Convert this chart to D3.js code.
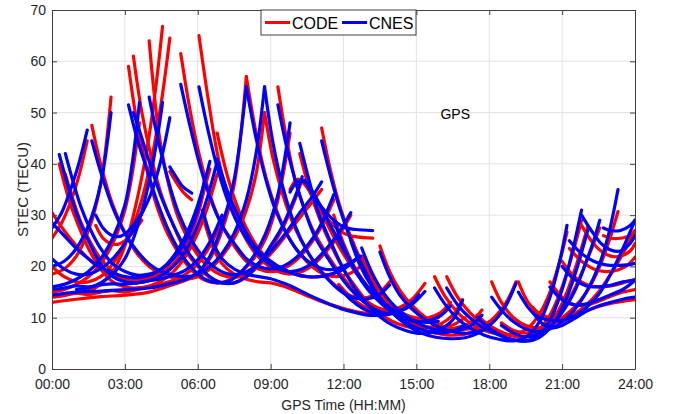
<!DOCTYPE html>
<html>
<head>
<meta charset="utf-8">
<script src="https://cdn.jsdelivr.net/npm/d3@7"></script>
<style>
  body { margin: 0; background: #fff; }
  svg { display: block; font-family: "Liberation Sans", Arial, sans-serif; }
</style>
</head>
<body>
<svg id="stec-chart" width="676" height="414"></svg>
<script>
'use strict';

// sample hours of every satellite arc (shared by both products)
var arcHours = [
    [0, 0.4, 0.8, 1.1, 1.45],
    [0, 0.5, 1, 1.5, 2, 2.43],
    [0, 0.5, 1, 1.5, 2, 2.5, 3, 3.3, 3.6],
    [0, 1, 2, 3, 4, 5, 5.5, 6, 6.5, 7, 7.5, 8],
    [0, 0.5, 1, 1.5, 2, 2.5, 3, 3.5, 4.1, 4.5, 4.85],
    [1, 1.5, 2, 2.5, 3, 3.5, 3.95, 4.3, 4.55],
    [0.3, 0.7, 1, 1.5, 2, 2.5, 3, 3.5, 4, 4.5, 5, 5.5, 6, 6.4, 6.8],
    [0.55, 0.9, 1.2, 1.6, 2, 2.5, 3, 3.5, 4, 4.5, 5, 5.5, 6, 6.3],
    [1.64, 2, 2.5, 3, 3.5, 4, 4.5, 5, 5.5, 6, 6.5, 7, 7.5, 8, 8.4, 8.75],
    [3.15, 3.5, 3.9, 4.3, 4.8, 5.3, 5.8, 6.3, 6.8, 7.3, 7.8, 8.3, 8.8, 9.3, 9.8],
    [3.35, 3.7, 4.1, 4.5, 5, 5.5, 6, 6.5, 7, 7.5, 8, 8.5, 9, 9.5, 10, 10.3],
    [4.0, 4.4, 4.8, 5.2, 5.7, 6.2, 6.7, 7.2, 7.7, 8.2, 8.7, 9.2, 9.7, 10.2, 10.7, 11.1],
    [5.3, 5.7, 6.1, 6.5, 7, 7.5, 8, 8.5, 9, 9.5, 10, 10.5, 11, 11.6],
    [6.05, 6.45, 6.85, 7.3, 7.8, 8.3, 8.8, 9.3, 9.8, 10.3, 10.8, 11.3, 11.8, 12.3],
    [6.8, 7.2, 7.6, 8, 8.5, 9, 9.5, 10, 10.5, 11, 11.5, 12, 12.55],
    [8.0, 8.4, 8.8, 9.2, 9.7, 10.2, 10.7, 11.2, 11.7, 12.2, 12.7],
    [10.4, 10.8, 11.2, 11.6, 12, 12.5, 13.2],
    [8.75, 9.1, 9.5, 10, 10.5, 11, 11.5, 12, 12.5, 13, 13.5, 13.9],
    [9.3, 9.65, 10, 10.4, 10.8, 11.3, 11.8, 12.3, 12.8, 13.3, 13.8, 14.3, 14.8, 15.35],
    [10.2, 10.6, 11, 11.5, 12, 12.5, 13, 13.5, 14, 14.5, 15, 15.5, 16, 16.5, 16.9],
    [11.1, 11.5, 11.9, 12.4, 12.9, 13.4, 14, 14.6, 15.2, 15.8, 16.4, 17, 17.5, 18],
    [6.2, 6.6, 7, 7.5, 8, 8.5, 9, 9.5, 10, 10.5, 11, 11.5, 12, 12.5, 13, 13.5, 14],
    [12.75, 13.2, 13.7, 14.2, 14.8, 15.4, 16, 16.6, 17.2, 17.7],
    [13.5, 13.9, 14.3, 14.8, 15.4, 16, 16.6, 17.2, 17.8, 18.3, 18.7, 19.1],
    [15.75, 16.2, 16.7, 17.2, 17.8, 18.4, 19, 19.6, 20.1, 20.5, 20.9, 21.2],
    [16.25, 16.7, 17.2, 17.7, 18.3, 18.9, 19.5, 20, 20.5, 21, 21.4, 21.8],
    [18.1, 18.5, 19, 19.5, 20, 20.5, 21, 21.5, 22, 22.5, 22.9, 23.3],
    [19.2, 19.6, 20, 20.5, 21, 21.5, 22, 22.5, 23, 23.5, 24],
    [17.5, 18, 18.6, 19.2, 19.8, 20.3, 20.8, 21.2, 21.6, 22.05],
    [18.5, 19, 19.5, 20, 20.5, 21, 21.5, 22, 22.3, 22.55],
    [21.3, 21.8, 22.3, 22.8, 23.3, 23.7, 24],
    [21.8, 22.2, 22.6, 23, 23.4, 23.8, 24],
    [22.7, 23, 23.4, 23.8, 24],
    [19.8, 20.2, 20.6, 21, 21.5, 22, 22.5, 23, 23.5, 24],
    [20.5, 21, 21.5, 22, 22.5, 23, 23.5, 24],
    [21, 21.5, 22, 22.5, 23, 23.5, 24],
    [9.8, 10.1, 10.4, 10.8, 11.3, 11.8, 12.4, 13, 13.6, 14.2, 14.8, 15.4, 15.9],
    [4.85, 5.1, 5.4, 5.75],
    [1.8, 2.1, 2.4, 2.7, 3.0, 3.3, 3.7],
    [0, 0.5, 1, 1.5, 2, 2.5, 3, 3.5, 4, 4.5, 5, 5.5, 6, 6.5],
    [11.6, 12, 12.5, 13, 13.5, 14, 14.5, 15, 15.5, 16, 16.4],
    [12.3, 12.7, 13.2, 13.7, 14.2, 14.8, 15.4, 16, 16.5, 17],
    [11.8, 12.3, 12.8, 13.3, 13.8, 14.3, 14.8, 15.1],
    [0, 0.5, 1, 1.5, 2, 2.5, 3, 3.5, 4, 4.5, 5, 5.5, 6, 6.5, 7]
]

// STEC from CODE (TECU)
var codeStec = [
    [25.5, 28.5, 33, 37.5, 44.5],
    [18.5, 19.5, 22, 27, 36, 53],
    [15, 15.5, 16.5, 18, 20.5, 24.5, 31, 38, 48],
    [13, 13.6, 14.1, 14.4, 15, 16.5, 17.3, 18.5, 21.5, 27, 36, 57],
    [20, 18, 17, 17, 18, 20.5, 24.5, 30, 41, 52, 64.5],
    [14.8, 15.2, 16.5, 19, 24, 33, 44, 56, 66.8],
    [40, 33, 29, 23.5, 19.5, 17, 16, 15.8, 16.2, 17.2, 19, 22, 26.5, 31.5, 38],
    [38, 32.5, 28.5, 24.5, 21.5, 19, 17.5, 17, 17.3, 18.5, 20.5, 24, 30, 36],
    [47.5, 40, 32, 26.5, 22.5, 20, 18.5, 17.8, 17.5, 18, 19.5, 22, 25.5, 31, 38, 50],
    [59, 48, 39, 32, 26, 22, 19, 17.3, 16.8, 17.3, 19, 21.5, 25.5, 33, 46],
    [61, 50, 41, 34, 28, 23, 20, 17.8, 16.8, 16.8, 18, 20.2, 23.5, 27.5, 33, 37],
    [64, 46, 36, 29.5, 24.5, 21, 19, 18, 18, 19, 21, 23.5, 26.5, 29.5, 32.5, 35],
    [61.5, 50, 41, 34, 28, 24, 21, 19.5, 19, 19.5, 21, 23.5, 27, 33],
    [65, 52, 41, 33, 27, 23, 20.5, 19, 18.5, 19, 20.5, 23, 26, 30],
    [46, 38, 32, 27.5, 23.5, 21, 19.5, 18.5, 18, 18, 18.5, 19.5, 21.5],
    [57, 46, 37.5, 31.5, 26, 22.5, 20, 18.5, 18, 18.5, 20],
    [36.5, 33, 30, 28, 26.5, 25.8, 25.5],
    [50, 41, 34, 27.5, 23, 19.5, 17, 15, 14, 14, 15, 17],
    [55, 45, 37, 31, 26.5, 22.5, 19, 16, 13.8, 12.2, 11.5, 12, 13.5, 16.7],
    [42, 35, 29.5, 24, 19.5, 16, 13, 10.8, 9.3, 8.4, 8, 8.1, 8.8, 10.5, 13.5],
    [47, 38, 31, 24.5, 19.5, 15, 11.5, 9.3, 7.8, 7, 6.6, 6.8, 7.6, 9.2],
    [30, 24, 20.5, 18.5, 17.5, 17, 16.8, 16.2, 15.3, 14.3, 13.3, 12.5, 11.8, 11.2, 10.8, 10.8, 11.2],
    [22, 17.5, 14, 11.5, 9.5, 8.3, 7.8, 8, 9, 11.5],
    [24, 19, 15.5, 12.5, 10, 8.5, 7.8, 7.8, 8.5, 10.5, 13, 17],
    [18, 14, 11, 9, 7.5, 6.8, 6.8, 8, 11, 15, 21, 26.7],
    [18, 14, 11, 9, 7.5, 6.5, 6.3, 7.5, 10.5, 16, 22, 29],
    [17, 13, 10, 8.5, 8, 8.5, 10, 12, 15, 19.5, 24.5, 30.7],
    [17, 13, 11, 10, 10, 10.8, 12.5, 15, 18.5, 22.5, 27],
    [10.5, 8.5, 7, 6.3, 6.5, 8, 11, 15, 20.5, 27.7],
    [9, 7.5, 7, 7.5, 9, 11.5, 15.5, 21, 24.5, 27.5],
    [23.5, 21, 19.5, 19, 19.3, 20.3, 21.8],
    [28, 25, 23, 22, 22, 23, 24.5],
    [26, 25.5, 25.5, 26, 27],
    [12, 10, 9.2, 9.3, 10, 11.3, 12.2, 12.8, 13.2, 13.5],
    [17, 14, 12.5, 12.5, 13.2, 14.2, 15, 15.5],
    [21, 18, 16.5, 16, 16.2, 16.8, 17.5],
    [35, 37, 36, 33, 28.5, 24, 19.5, 16, 13.5, 11.5, 10.2, 9.8, 10],
    [38.5, 36.5, 34.5, 33],
    [28, 25.5, 24.5, 24.3, 25, 26.5, 29],
    [30.5, 27, 24, 21.5, 19.5, 18.3, 17.5, 17.3, 17.8, 19, 21.5, 25.5, 31, 39],
    [30, 24.5, 19.5, 16, 13.5, 11.5, 10.3, 9.8, 10, 11, 13],
    [26, 21, 16.5, 13.2, 11, 9.2, 8.2, 8, 8.6, 10],
    [16.5, 14, 12.3, 11.3, 11, 11.5, 12.8, 14],
    [14, 14.3, 14.8, 14.5, 15, 15.3, 15, 15.5, 16, 16.6, 17.3, 18.5, 20.5, 24, 29]
]

// STEC from CNES (TECU)
var cnesStec = [
    [27.5, 30.5, 35.5, 40, 46.6],
    [20, 21, 23.5, 28, 36, 50],
    [16, 16.5, 17.5, 19, 21.5, 25.5, 32, 40, 52],
    [14.4, 15, 15.2, 15.5, 15.8, 16.8, 17.5, 18.8, 22, 28, 37, 55],
    [21.5, 19.5, 18.5, 18.5, 19.5, 21.5, 24.5, 28.5, 34.5, 41, 49],
    [15.5, 15.8, 16.8, 18.5, 21.5, 27.5, 35.5, 44, 52],
    [41.8, 35, 30.5, 25, 20.5, 18, 17, 16.8, 17.2, 18.2, 20, 23, 28, 33.5, 40.5],
    [42, 36, 31.5, 27, 23.5, 20.5, 19, 18.3, 18.5, 19.5, 21.5, 25, 31, 37.5],
    [44.5, 38.5, 31.5, 26.5, 23, 20.5, 19, 18.3, 18, 18.5, 20, 22.5, 26.5, 33, 42, 55],
    [51.5, 45, 39, 33, 27, 22.5, 19.5, 17.5, 16.8, 17.2, 19, 22, 26.5, 34, 48],
    [50, 45, 39, 33.5, 28, 23.5, 20.3, 18, 16.8, 16.8, 18, 20.5, 24, 28, 33.5, 37.5],
    [53, 44, 36.5, 30.5, 25.5, 22, 19.8, 18.6, 18.5, 19.5, 21.5, 24, 27, 30.5, 33.5, 36.5],
    [55.5, 47, 39.5, 33.5, 28, 24.5, 21.5, 20, 19.5, 20, 21.5, 24, 27.5, 34],
    [55, 46, 38.5, 32, 27, 23.5, 21, 19.5, 19, 19.5, 21, 23.5, 26.5, 30.5],
    [41, 35, 30.5, 26.5, 23, 21, 19.5, 18.5, 18, 18, 18.5, 19.5, 21.5],
    [55, 45, 37, 31, 26, 22.5, 20.5, 19.5, 19.5, 20.5, 22],
    [36.8, 33.5, 31, 29, 27.7, 27.2, 27],
    [55, 44, 35.5, 28, 23, 19.5, 16.8, 14.8, 13.8, 13.7, 14.6, 16.4],
    [51.5, 43.5, 37, 31, 26, 22, 18.5, 15.5, 13.2, 11.6, 10.8, 11.2, 12.5, 15.1],
    [44, 36.5, 30, 24.5, 19.5, 15.5, 12.5, 10.2, 8.6, 7.6, 7, 7.1, 7.8, 9.6, 13.4],
    [44.5, 37, 30.5, 24, 19, 14.5, 11, 8.6, 7, 6.2, 5.9, 6.1, 6.9, 8.6],
    [31, 25, 21.5, 19.5, 18.5, 18, 17.6, 16.8, 15.8, 14.6, 13.5, 12.5, 11.6, 11, 10.5, 10.5, 11],
    [23.6, 18.5, 14.5, 11.8, 9.6, 8.2, 7.5, 7.5, 8.3, 10.5],
    [22.8, 18, 14.5, 11.8, 9.5, 8, 7.2, 7, 7.8, 9.8, 12.5, 16.7],
    [15.8, 12.5, 9.8, 8, 6.6, 5.8, 5.5, 6.5, 9.5, 14, 21, 28],
    [15.8, 12.5, 10, 8.2, 6.8, 5.8, 5.5, 6.5, 9.5, 15.5, 22.5, 31],
    [14, 11.5, 9.2, 7.8, 7.3, 7.8, 9.2, 11.5, 15, 20, 26, 35],
    [15, 12, 10.2, 9.5, 9.5, 10.3, 12, 14.5, 18.5, 23.5, 29],
    [10, 8, 6.3, 5.5, 5.6, 7, 10, 14, 19.5, 27],
    [8.5, 7, 6.3, 6.8, 8.3, 11, 15, 21, 25, 29],
    [25, 22.5, 21, 20.3, 20.2, 20.3, 20.6],
    [30, 27, 24.5, 23.2, 23, 24.5, 26],
    [27.5, 27, 27, 28, 29],
    [11, 8.8, 8, 8.5, 9.8, 11.3, 12.3, 13, 13.6, 14],
    [16, 13.5, 12.5, 12.7, 13.5, 14.5, 15.5, 17.3],
    [20, 17.5, 16.2, 16, 16.3, 17, 17.3],
    [34.5, 36.5, 36.5, 34, 29.5, 25, 20, 16, 13.2, 11, 9.6, 9.1, 9.3],
    [39.4, 37.5, 35.5, 34.3],
    [30, 27.5, 26.2, 25.8, 26.3, 27.8, 30.5],
    [28.5, 26, 23.5, 21.5, 19.8, 18.8, 18, 17.8, 18.3, 19.5, 22, 26, 32, 40.5],
    [29, 24, 19, 15.5, 13, 11, 9.8, 9.2, 9.4, 10.4, 12.3],
    [25, 20, 15.8, 12.6, 10.3, 8.5, 7.4, 7, 7.4, 8.6],
    [16, 13.5, 11.8, 10.8, 10.6, 11.3, 12.8, 14.5],
    [15.5, 15.8, 16.2, 16, 16.4, 16.6, 16.5, 16.8, 17.2, 17.6, 18.3, 19.3, 21.3, 24.8, 30]
]

var xTicks = [0, 3, 6, 9, 12, 15, 18, 21, 24]
var yTicks = [0, 10, 20, 30, 40, 50, 60, 70]
var seriesNames = ['CODE', 'CNES']
var seriesColors = ['#ff0000', '#0000ff']

var svg = d3.select('#stec-chart')
var margin = { left: 52, right: 41, top: 10, bottom: 45 }
var width = 676 - margin.left - margin.right
var height = 414 - margin.top - margin.bottom

var x = d3.scaleLinear().domain([0, 24]).range([0, width])
var y = d3.scaleLinear().domain([0, 70]).range([height, 0])

var g = svg.append('g')
    .attr('transform', 'translate(' + margin.left + ',' + margin.top + ')')

// grid
g.append('g').selectAll('line')
    .data(xTicks.slice(1, -1))
    .enter().append('line')
    .attr('x1', function(d) { return x(d) }).attr('x2', function(d) { return x(d) })
    .attr('y1', 0).attr('y2', height)
    .attr('stroke', '#e3e3e3').attr('stroke-width', 1)
g.append('g').selectAll('line')
    .data(yTicks.slice(1, -1))
    .enter().append('line')
    .attr('y1', function(d) { return y(d) }).attr('y2', function(d) { return y(d) })
    .attr('x1', 0).attr('x2', width)
    .attr('stroke', '#e3e3e3').attr('stroke-width', 1)

g.append('clipPath').attr('id', 'plot-clip')
    .append('rect').attr('width', width).attr('height', height)

var line = d3.line()
    .x(function(d) { return x(d[0]) })
    .y(function(d) { return y(d[1]) })
    .curve(d3.curveCatmullRom.alpha(0.5))

function drawSeries(stec, color) {
    var arcs = stec.map(function(values, k) {
        return values.map(function(v, i) { return [arcHours[k][i], v] })
    })
    g.append('g')
        .attr('clip-path', 'url(#plot-clip)')
        .selectAll('path')
        .data(arcs)
        .enter().append('path')
        .attr('d', line)
        .attr('fill', 'none')
        .attr('stroke', color)
        .attr('stroke-width', 3.2)
        .attr('stroke-linejoin', 'round')
        .attr('stroke-linecap', 'round')
}

drawSeries(codeStec, seriesColors[0])
drawSeries(cnesStec, seriesColors[1])

// axes, MATLAB style with inward ticks on all four sides
var axisColor = '#404040'
var fmtHour = function(d) { return d3.format('02d')(d) + ':00' }

var xAxis = g.append('g')
    .attr('transform', 'translate(0,' + height + ')')
    .call(d3.axisBottom(x).tickValues(xTicks).tickFormat(fmtHour).tickSizeInner(-5).tickSizeOuter(0).tickPadding(10))
var xAxisTop = g.append('g')
    .call(d3.axisTop(x).tickValues(xTicks).tickFormat('').tickSizeInner(-5).tickSizeOuter(0))
var yAxis = g.append('g')
    .call(d3.axisLeft(y).tickValues(yTicks).tickSizeInner(-5).tickSizeOuter(0).tickPadding(6))
var yAxisRight = g.append('g')
    .attr('transform', 'translate(' + width + ',0)')
    .call(d3.axisRight(y).tickValues(yTicks).tickFormat('').tickSizeInner(-5).tickSizeOuter(0))

;[xAxis, xAxisTop, yAxis, yAxisRight].forEach(function(a) {
    a.selectAll('path').attr('stroke', axisColor)
    a.selectAll('line').attr('stroke', axisColor)
    a.selectAll('text')
        .attr('fill', '#262626')
        .style('font-size', '14px')
        .style('font-family', '"Liberation Sans", Arial, sans-serif')
})

// labels
svg.append('text')
    .attr('x', margin.left + width / 2)
    .attr('y', 410)
    .attr('text-anchor', 'middle')
    .attr('fill', '#262626')
    .style('font-size', '14px')
    .text('GPS Time (HH:MM)')

svg.append('text')
    .attr('transform', 'translate(28,' + (margin.top + height / 2) + ') rotate(-90)')
    .attr('text-anchor', 'middle')
    .attr('fill', '#262626')
    .style('font-size', '15px')
    .text('STEC (TECU)')

g.append('text')
    .attr('x', x(16.6))
    .attr('y', y(48.7))
    .attr('text-anchor', 'middle')
    .attr('fill', '#000')
    .style('font-size', '14px')
    .text('GPS')

// legend
var legend = svg.append('g').attr('transform', 'translate(261,10)')
legend.append('rect')
    .attr('width', 155).attr('height', 25)
    .attr('fill', '#fff').attr('stroke', axisColor).attr('stroke-width', 1)
var legendItem = legend.selectAll('g.item')
    .data(seriesNames)
    .enter().append('g')
    .attr('class', 'item')
    .attr('transform', function(d, i) { return 'translate(' + (4 + i * 77) + ',0)' })
legendItem.append('line')
    .attr('x1', 0).attr('x2', 25).attr('y1', 12.5).attr('y2', 12.5)
    .attr('stroke', function(d, i) { return seriesColors[i] })
    .attr('stroke-width', 3)
legendItem.append('text')
    .attr('x', 27).attr('y', 18.5)
    .attr('fill', '#000')
    .style('font-size', '16px')
    .text(function(d) { return d })
</script>
</body>
</html>
